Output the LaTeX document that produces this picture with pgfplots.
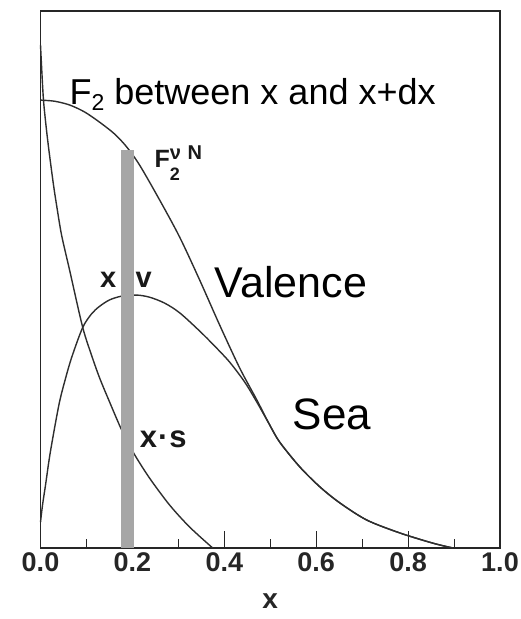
\documentclass[border=0pt]{standalone}
\usepackage{pgfplots}
\pgfplotsset{compat=1.18}
\usepackage{fontspec}
\setmainfont{Liberation Sans}
\definecolor{curve}{HTML}{2E2E2E}
\definecolor{barg}{HTML}{A6A6A6}
\begin{document}
\begin{tikzpicture}[x=1pt,y=1pt]
\useasboundingbox (0,0) rectangle (520,619);
\begin{axis}[
  at={(40.5pt,71pt)}, anchor=south west,
  scale only axis, width=459.5pt, height=537pt,
  xmin=0, xmax=1, ymin=0, ymax=1,
  axis line style={draw=black!85, line width=1.3pt},
  xtick={0,0.2,0.4,0.6,0.8,1.0},
  xticklabels={0.0,0.2,0.4,0.6,0.8,1.0},
  minor xtick={0.1,0.3,0.5,0.7,0.9},
  ytick=\empty,
  xtick pos=bottom,
  tick align=inside,
  major tick length=17pt, minor tick length=9pt,
  every tick/.style={black!85, line width=1.1pt},
  /pgf/number format/assume math mode=true,
  xticklabel style={font=\bfseries\fontsize{27}{27}\selectfont, text=black!85, yshift=-1pt},
  xlabel={x},
  xlabel style={font=\bfseries\fontsize{28}{28}\selectfont, text=black!85, inner sep=0pt, yshift=-19pt},
  clip=false,
]
% F2
\addplot[curve, line width=1.4pt, smooth, tension=0.5] coordinates {
(0,0.834) (0.0305,0.832) (0.0632,0.825) (0.0959,0.812) (0.1285,0.793) (0.1612,0.771)
(0.1874,0.747) (0.2157,0.713) (0.2593,0.648) (0.3028,0.579) (0.3464,0.499) (0.3900,0.415)
(0.4336,0.335) (0.4706,0.276) (0.4989,0.229) (0.5207,0.197) (0.5643,0.151) (0.6078,0.114)
(0.6514,0.084) (0.7102,0.052) (0.7821,0.028) (0.8540,0.009) (0.8976,0.0)
};
% valence
\addplot[curve, line width=1.4pt, smooth, tension=0.5] coordinates {
(0,0.048) (0.0044,0.080) (0.0109,0.117) (0.0196,0.169) (0.0305,0.223) (0.0414,0.272)
(0.0523,0.309) (0.0675,0.354) (0.0915,0.410) (0.1111,0.436) (0.1285,0.450) (0.1503,0.462)
(0.1765,0.469) (0.2092,0.471) (0.2375,0.467) (0.2702,0.456) (0.3028,0.438) (0.3464,0.404)
(0.3791,0.376) (0.4118,0.346) (0.4444,0.309) (0.4706,0.272) (0.4989,0.229) (0.5207,0.197)
(0.5643,0.151) (0.6078,0.114) (0.6514,0.084) (0.7102,0.052) (0.7821,0.028) (0.8540,0.009) (0.8976,0.0)
};
% sea
\addplot[curve, line width=1.4pt, smooth, tension=0.5] coordinates {
(0,0.937) (0.0022,0.899) (0.0065,0.834) (0.0131,0.778) (0.0196,0.732) (0.0283,0.676)
(0.0349,0.639) (0.0458,0.583) (0.0632,0.518) (0.0915,0.412) (0.1111,0.359) (0.1285,0.317)
(0.1503,0.272) (0.1765,0.220) (0.2026,0.177) (0.2375,0.130) (0.2810,0.080) (0.3246,0.039) (0.3747,0.0)
};
% bar
\addplot[fill=barg, draw=none] coordinates {
(0.176,0) (0.176,0.741) (0.203,0.741) (0.203,0)} -- cycle;
\node[anchor=base west, inner sep=0, font=\fontsize{36}{36}\selectfont] at (axis cs:0.063,0.825)
  {F\raisebox{-6pt}{\fontsize{23}{23}\selectfont 2} between x and x+dx};
\node[anchor=base west, inner sep=0, font=\bfseries\fontsize{25}{25}\selectfont, text=black!90] at (axis cs:0.248,0.708)
  {F\rlap{\raisebox{-13pt}{\fontsize{18}{18}\selectfont 2}}\raisebox{8pt}{\fontsize{20}{20}\selectfont ν\,\,N}};
\node[anchor=base west, inner sep=0, font=\fontsize{43}{43}\selectfont] at (axis cs:0.379,0.467) {Valence};
\node[anchor=base west, inner sep=0, font=\fontsize{44}{44}\selectfont] at (axis cs:0.549,0.220) {Sea};
\node[anchor=base west, inner sep=0, font=\bfseries\fontsize{31}{31}\selectfont, text=black!90] at (axis cs:0.216,0.188) {x\kern1pt·\kern1pt s};
\node[anchor=base, inner sep=0, font=\bfseries\fontsize{29}{29}\selectfont, text=black!90] at (axis cs:0.186,0.486) {x\,·\,v};
% bar drawn over the dot of the x v label
\addplot[fill=barg, draw=none] coordinates {
(0.176,0.44) (0.176,0.55) (0.203,0.55) (0.203,0.44)} -- cycle;
\end{axis}
\end{tikzpicture}
\end{document}
